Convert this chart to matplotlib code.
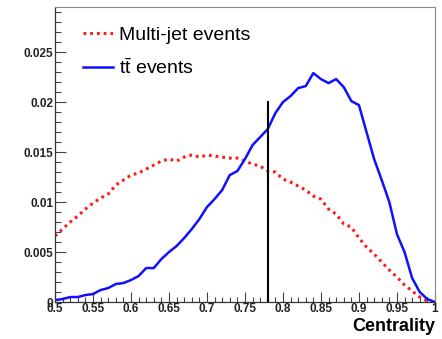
import matplotlib
matplotlib.use("Agg")
import matplotlib.pyplot as plt
import numpy as np
from matplotlib.ticker import MultipleLocator, FormatStrFormatter

plt.rcParams['font.family'] = ['Liberation Sans', 'DejaVu Sans']
plt.rcParams['mathtext.fontset'] = 'custom'
plt.rcParams['mathtext.rm'] = 'Liberation Sans'
plt.rcParams['mathtext.it'] = 'Liberation Sans'

# ------------------------- Data -------------------------
centrality = [0.50, 0.51, 0.52, 0.53, 0.54, 0.55, 0.56, 0.57, 0.58, 0.59,
              0.60, 0.61, 0.62, 0.63, 0.64, 0.65, 0.66, 0.67, 0.68, 0.69,
              0.70, 0.71, 0.72, 0.73, 0.74, 0.75, 0.76, 0.77, 0.78, 0.79,
              0.80, 0.81, 0.82, 0.83, 0.84, 0.85, 0.86, 0.87, 0.88, 0.89,
              0.90, 0.91, 0.92, 0.93, 0.94, 0.95, 0.96, 0.97, 0.98, 0.99, 1.00]

multijet = [0.0066, 0.0073, 0.0080, 0.0086, 0.0093, 0.0099, 0.0104, 0.0108, 0.0117, 0.0122,
            0.0127, 0.0129, 0.0133, 0.0137, 0.0141, 0.0143, 0.0141, 0.0145, 0.0147, 0.0145,
            0.0147, 0.0146, 0.0145, 0.0144, 0.0144, 0.0141, 0.0138, 0.0136, 0.0131, 0.0130,
            0.0123, 0.0120, 0.0116, 0.0112, 0.0106, 0.0103, 0.0093, 0.0088, 0.0078, 0.0075,
            0.0064, 0.0055, 0.0048, 0.0040, 0.0032, 0.0025, 0.0017, 0.0011, 0.0005, 0.0001, 0.0000]

ttbar = [0.0002, 0.0003, 0.0005, 0.0005, 0.0007, 0.0008, 0.0012, 0.0014, 0.0018, 0.0019,
         0.0022, 0.0026, 0.0034, 0.0034, 0.0043, 0.0050, 0.0056, 0.0064, 0.0073, 0.0083,
         0.0095, 0.0103, 0.0112, 0.0127, 0.0131, 0.0143, 0.0157, 0.0165, 0.0173, 0.0189,
         0.0200, 0.0206, 0.0214, 0.0216, 0.0229, 0.0223, 0.0219, 0.0223, 0.0215, 0.0201,
         0.0197, 0.0170, 0.0143, 0.0122, 0.0100, 0.0068, 0.0050, 0.0024, 0.0010, 0.0003, 0.0000]

cut_value = 0.78
cut_height = 0.02

# ------------------------- Plot -------------------------
fig = plt.figure(figsize=(4.42, 3.39), dpi=100)
ax = fig.add_axes([0.1244, 0.109, 0.8596, 0.870])

ax.plot(centrality, multijet, color='#ff1a1a', lw=2.2, linestyle=(0, (0.9, 1.3)),
        label='Multi-jet events')
ax.plot(centrality, ttbar, color='#1010ff', lw=1.8, label=r'$\mathrm{t\bar{t}}$ events')
ax.plot([cut_value, cut_value], [0, cut_height], color='black', lw=1.5)

ax.set_xlim(0.5, 1.0)
ax.set_ylim(0, 0.0295)

ax.xaxis.set_major_locator(MultipleLocator(0.05))
ax.xaxis.set_minor_locator(MultipleLocator(0.01))
ax.yaxis.set_major_locator(MultipleLocator(0.005))
ax.yaxis.set_minor_locator(MultipleLocator(0.001))
ax.xaxis.set_major_formatter(FormatStrFormatter('%g'))
ax.yaxis.set_major_formatter(FormatStrFormatter('%g'))

ax.tick_params(axis='both', which='both', direction='in', color='#444444', width=0.8)
ax.tick_params(axis='y', which='major', length=8, pad=1)
ax.tick_params(axis='y', which='minor', length=4)
ax.tick_params(axis='x', which='major', length=7, pad=1)
ax.tick_params(axis='x', which='minor', length=3.5)
for lab in ax.get_xticklabels() + ax.get_yticklabels():
    lab.set_fontsize(8.5)
    lab.set_fontweight('bold')
    lab.set_color('#222222')

for side in ['left', 'bottom']:
    ax.spines[side].set_color('#333333')
    ax.spines[side].set_linewidth(0.9)
for side in ['top', 'right']:
    ax.spines[side].set_color('#888888')
    ax.spines[side].set_linewidth(0.8)

ax.set_xlabel('Centrality', fontsize=13, fontweight='bold', loc='right', labelpad=2)

ax.legend(loc='upper left', bbox_to_anchor=(0.075, 0.935), frameon=False,
          fontsize=14, handlelength=1.5, handletextpad=0.35, labelspacing=0.72,
          borderpad=0, borderaxespad=0)

fig.savefig('out.png', dpi=100)
